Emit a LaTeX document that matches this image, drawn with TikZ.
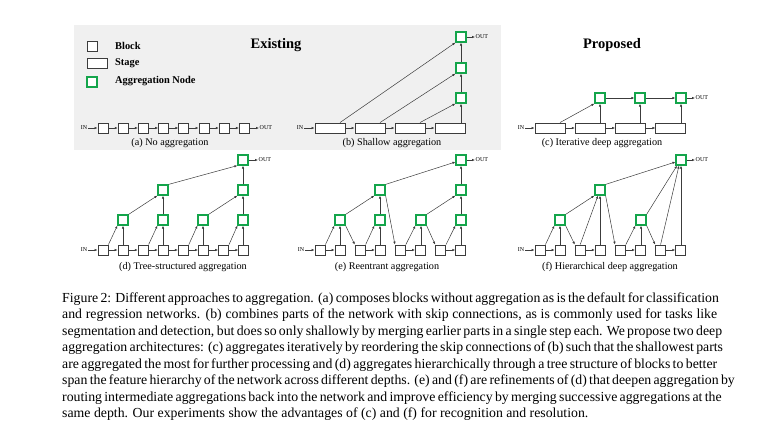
\documentclass[tikz,border=0pt]{standalone}
\usepackage{fontspec}
\setmainfont{Liberation Serif}
\usetikzlibrary{arrows.meta}
\definecolor{aggG}{RGB}{20,165,75}
\definecolor{bgG}{RGB}{240,240,240}
\definecolor{lineC}{RGB}{60,60,60}
\begin{document}
\begin{tikzpicture}[x=1pt,y=-1pt,
 blk/.style={draw=lineC, line width=0.9pt, minimum width=10pt, minimum height=10pt, inner sep=0pt, fill=white},
 stg/.style={blk, minimum width=30pt},
 agg/.style={draw=aggG, line width=1.2pt, minimum width=10pt, minimum height=10pt, inner sep=0pt, fill=white},
 ar/.style={draw=lineC, line width=0.5pt, -{Latex[length=3pt,width=2.4pt]}},
 io/.style={font=\fontsize{6}{7}\selectfont, inner sep=0.5pt},
 sub/.style={font=\fontsize{10.2}{12}\selectfont},
 leg/.style={font=\bfseries\fontsize{10.4}{12}\selectfont, anchor=west, inner sep=0pt},
 ttl/.style={font=\bfseries\fontsize{14.5}{17}\selectfont},
 capl/.style={font=\fontsize{13.8}{16.5}\selectfont, anchor=base west, inner sep=0pt}]
\useasboundingbox (0,0) rectangle (777,440);
\fill[bgG] (74,25) rectangle (501,150);
% legend
\node[blk] (lb) at (92,46) {};
\node[leg] (lbt) at (115,46) {Block};
\node[blk, minimum width=20pt] (ls) at (97,63.5) {};
\node[leg] (lst) at (115,63) {Stage};
\node[agg] (la) at (92,82) {};
\node[leg] (lat) at (115,81) {Aggregation Node};
\node[ttl] (t1) at (276,45) {Existing};
\node[ttl] (t2) at (612,45) {Proposed};
% (a)
\foreach \i in {1,...,8} \node[blk] (a\i) at ({103+20.2*(\i-1)},128) {};
\foreach \i [evaluate=\i as \j using int(\i+1)] in {1,...,7} \draw[ar] (a\i) -- (a\j);
\node[io, anchor=east] (ain) at (88,128) {IN};
\node[io, anchor=west] (aout) at (259,128) {OUT};
\draw[ar] (ain) -- (a1);
\draw[ar] (a8) -- (aout);
\node[sub] (ca) at (170,143) {(a) No aggregation};
% (b)
\foreach \i in {1,...,4} \node[stg] (b\i) at ({330+40*(\i-1)},128) {};
\foreach \i [evaluate=\i as \j using int(\i+1)] in {1,...,3} \draw[ar] (b\i) -- (b\j);
\node[agg] (bg1) at (461,98) {};
\node[agg] (bg2) at (461,68) {};
\node[agg] (bg3) at (461,37) {};
\node[io, anchor=east] (bin) at (304,128) {IN};
\node[io, anchor=west] (bout) at (475,37) {OUT};
\draw[ar] (bin) -- (b1);
\draw[ar] ([xshift=10pt]b1.north) -- (bg3.south west);
\draw[ar] ([xshift=10pt]b2.north) -- (bg2.south west);
\draw[ar] ([xshift=10pt]b3.north) -- (bg1.south west);
\draw[ar] (bg1 |- b4.north) -- (bg1.south);
\draw[ar] (bg1) -- (bg2);
\draw[ar] (bg2) -- (bg3);
\draw[ar] (bg3) -- (bout);
\node[sub] (cb) at (392,143) {(b) Shallow aggregation};
% (c)
\foreach \i in {1,...,4} \node[stg] (c\i) at ({550+40.3*(\i-1)},128) {};
\foreach \i [evaluate=\i as \j using int(\i+1)] in {1,...,3} \draw[ar] (c\i) -- (c\j);
\node[agg] (cg1) at (600,98) {};
\node[agg] (cg2) at (640,98) {};
\node[agg] (cg3) at (681,98) {};
\node[io, anchor=east] (cin) at (525,128) {IN};
\node[io, anchor=west] (cout) at (695,98) {OUT};
\draw[ar] (cin) -- (c1);
\draw[ar] ([xshift=10pt]c1.north) -- (cg1.south west);
\draw[ar] (cg1 |- c2.north) -- (cg1.south);
\draw[ar] (cg2 |- c3.north) -- (cg2.south);
\draw[ar] (cg3 |- c4.north) -- (cg3.south);
\draw[ar] (cg1) -- (cg2);
\draw[ar] (cg2) -- (cg3);
\draw[ar] (cg3) -- (cout);
\node[sub] (cc) at (602,143) {(c) Iterative deep aggregation};
% (d)
\foreach \i in {1,...,8} \node[blk] (d\i) at ({103+20.1*(\i-1)},250) {};
\foreach \i [evaluate=\i as \j using int(\i+1)] in {1,...,7} \draw[ar] (d\i) -- (d\j);
\node[agg] (dA) at (123,220) {};
\node[agg] (dB) at (163,220) {};
\node[agg] (dC) at (203,220) {};
\node[agg] (dD) at (243,220) {};
\node[agg] (dE) at (163,190) {};
\node[agg] (dF) at (243,190) {};
\node[agg] (dG) at (243,160) {};
\node[io, anchor=east] (din) at (88,250) {IN};
\node[io, anchor=west] (dout) at (258,160) {OUT};
\draw[ar] (din) -- (d1);
\draw[ar] (d1.north east) -- (dA.south west);
\draw[ar] (dA |- d2.north) -- (dA.south);
\draw[ar] (d3.north east) -- (dB.south west);
\draw[ar] (dB |- d4.north) -- (dB.south);
\draw[ar] (d5.north east) -- (dC.south west);
\draw[ar] (dC |- d6.north) -- (dC.south);
\draw[ar] (d7.north east) -- (dD.south west);
\draw[ar] (dD |- d8.north) -- (dD.south);
\draw[ar] (dA.north east) -- (dE.south west);
\draw[ar] (dB) -- (dE);
\draw[ar] (dC.north east) -- (dF.south west);
\draw[ar] (dD) -- (dF);
\draw[ar] (dE.north east) -- (dG.south west);
\draw[ar] (dF) -- (dG);
\draw[ar] (dG) -- (dout);
\node[sub] (cd) at (183,267) {(d) Tree-structured aggregation};
% (e)
\foreach \i in {1,...,8} \node[blk] (e\i) at ({320+20.1*(\i-1)},250) {};
\foreach \i [evaluate=\i as \j using int(\i+1)] in {1,3,5,7} \draw[ar] (e\i) -- (e\j);
\node[agg] (eA) at (340,220) {};
\node[agg] (eB) at (380,220) {};
\node[agg] (eC) at (421,220) {};
\node[agg] (eD) at (461,220) {};
\node[agg] (eE) at (380,190) {};
\node[agg] (eF) at (461,190) {};
\node[agg] (eG) at (461,160) {};
\node[io, anchor=east] (ein) at (305,250) {IN};
\node[io, anchor=west] (eout) at (475,160) {OUT};
\draw[ar] (ein) -- (e1);
\draw[ar] (e1.north east) -- (eA.south west);
\draw[ar] (eA |- e2.north) -- (eA.south);
\draw[ar] (eA.south east) -- (e3.north west);
\draw[ar] (e3.north east) -- (eB.south west);
\draw[ar] (eB |- e4.north) -- (eB.south);
\draw[ar] (eA.north east) -- (eE.south west);
\draw[ar] (eB) -- (eE);
\draw[ar] (eE.south east) -- (e5.north west);
\draw[ar] (e5.north east) -- (eC.south west);
\draw[ar] (eC |- e6.north) -- (eC.south);
\draw[ar] (eC.south east) -- (e7.north west);
\draw[ar] (e7.north east) -- (eD.south west);
\draw[ar] (eD |- e8.north) -- (eD.south);
\draw[ar] (eC.north east) -- (eF.south west);
\draw[ar] (eD) -- (eF);
\draw[ar] (eE.north east) -- ([yshift=-2pt]eG.west);
\draw[ar] (eF) -- (eG);
\draw[ar] (eG) -- (eout);
\node[sub] (ce) at (387,267) {(e) Reentrant aggregation};
% (f)
\foreach \i in {1,...,8} \node[blk] (f\i) at ({540+20.1*(\i-1)},250) {};
\foreach \i [evaluate=\i as \j using int(\i+1)] in {1,3,5,7} \draw[ar] (f\i) -- (f\j);
\node[agg] (fA) at (560,220) {};
\node[agg] (fB) at (641,220) {};
\node[agg] (fE) at (600,190) {};
\node[agg] (fG) at (681,160) {};
\node[io, anchor=east] (fin) at (525,250) {IN};
\node[io, anchor=west] (fout) at (695,160) {OUT};
\draw[ar] (fin) -- (f1);
\draw[ar] (f1.north east) -- (fA.south west);
\draw[ar] (fA |- f2.north) -- (fA.south);
\draw[ar] (fA.south east) -- (f3.north west);
\draw[ar] (fA.north east) -- (fE.south west);
\draw[ar] (f3.north) -- ([xshift=-2pt]fE.south);
\draw[ar] (fE |- f4.north) -- (fE.south);
\draw[ar] (fE.south east) -- (f5.north west);
\draw[ar] (f5.north east) -- (fB.south west);
\draw[ar] (fB |- f6.north) -- (fB.south);
\draw[ar] (fB.south east) -- (f7.north west);
\draw[ar] (fB.north east) -- ([xshift=-4pt]fG.south);
\draw[ar] (f7.north) -- ([xshift=-2pt]fG.south);
\draw[ar] (fG |- f8.north) -- (fG.south);
\draw[ar] (fE.north east) -- ([yshift=-2pt]fG.west);
\draw[ar] (fG) -- (fout);
\node[sub] (cf) at (610,267) {(f) Hierarchical deep aggregation};
% caption
\node[capl] (cap1) at (62,302) {\makebox[655pt][s]{Figure 2: Different approaches to aggregation. (a) composes blocks without aggregation as is the default for classification}};
\node[capl] (cap2) at (62,318.5) {\makebox[655pt][s]{and regression networks. (b) combines parts of the network with skip connections, as is commonly used for tasks like}};
\node[capl] (cap3) at (62,335) {\makebox[655pt][s]{segmentation and detection, but does so only shallowly by merging earlier parts in a single step each. We propose two deep}};
\node[capl] (cap4) at (62,351.5) {\makebox[655pt][s]{aggregation architectures: (c) aggregates iteratively by reordering the skip connections of (b) such that the shallowest parts}};
\node[capl] (cap5) at (62,368) {\makebox[655pt][s]{are aggregated the most for further processing and (d) aggregates hierarchically through a tree structure of blocks to better}};
\node[capl] (cap6) at (62,384.5) {\makebox[655pt][s]{span the feature hierarchy of the network across different depths. (e) and (f) are refinements of (d) that deepen aggregation by}};
\node[capl] (cap7) at (62,401) {\makebox[655pt][s]{routing intermediate aggregations back into the network and improve efficiency by merging successive aggregations at the}};
\node[capl] (cap8) at (62,417.5) {same depth. Our experiments show the advantages of (c) and (f) for recognition and resolution.};
\end{tikzpicture}
\end{document}
